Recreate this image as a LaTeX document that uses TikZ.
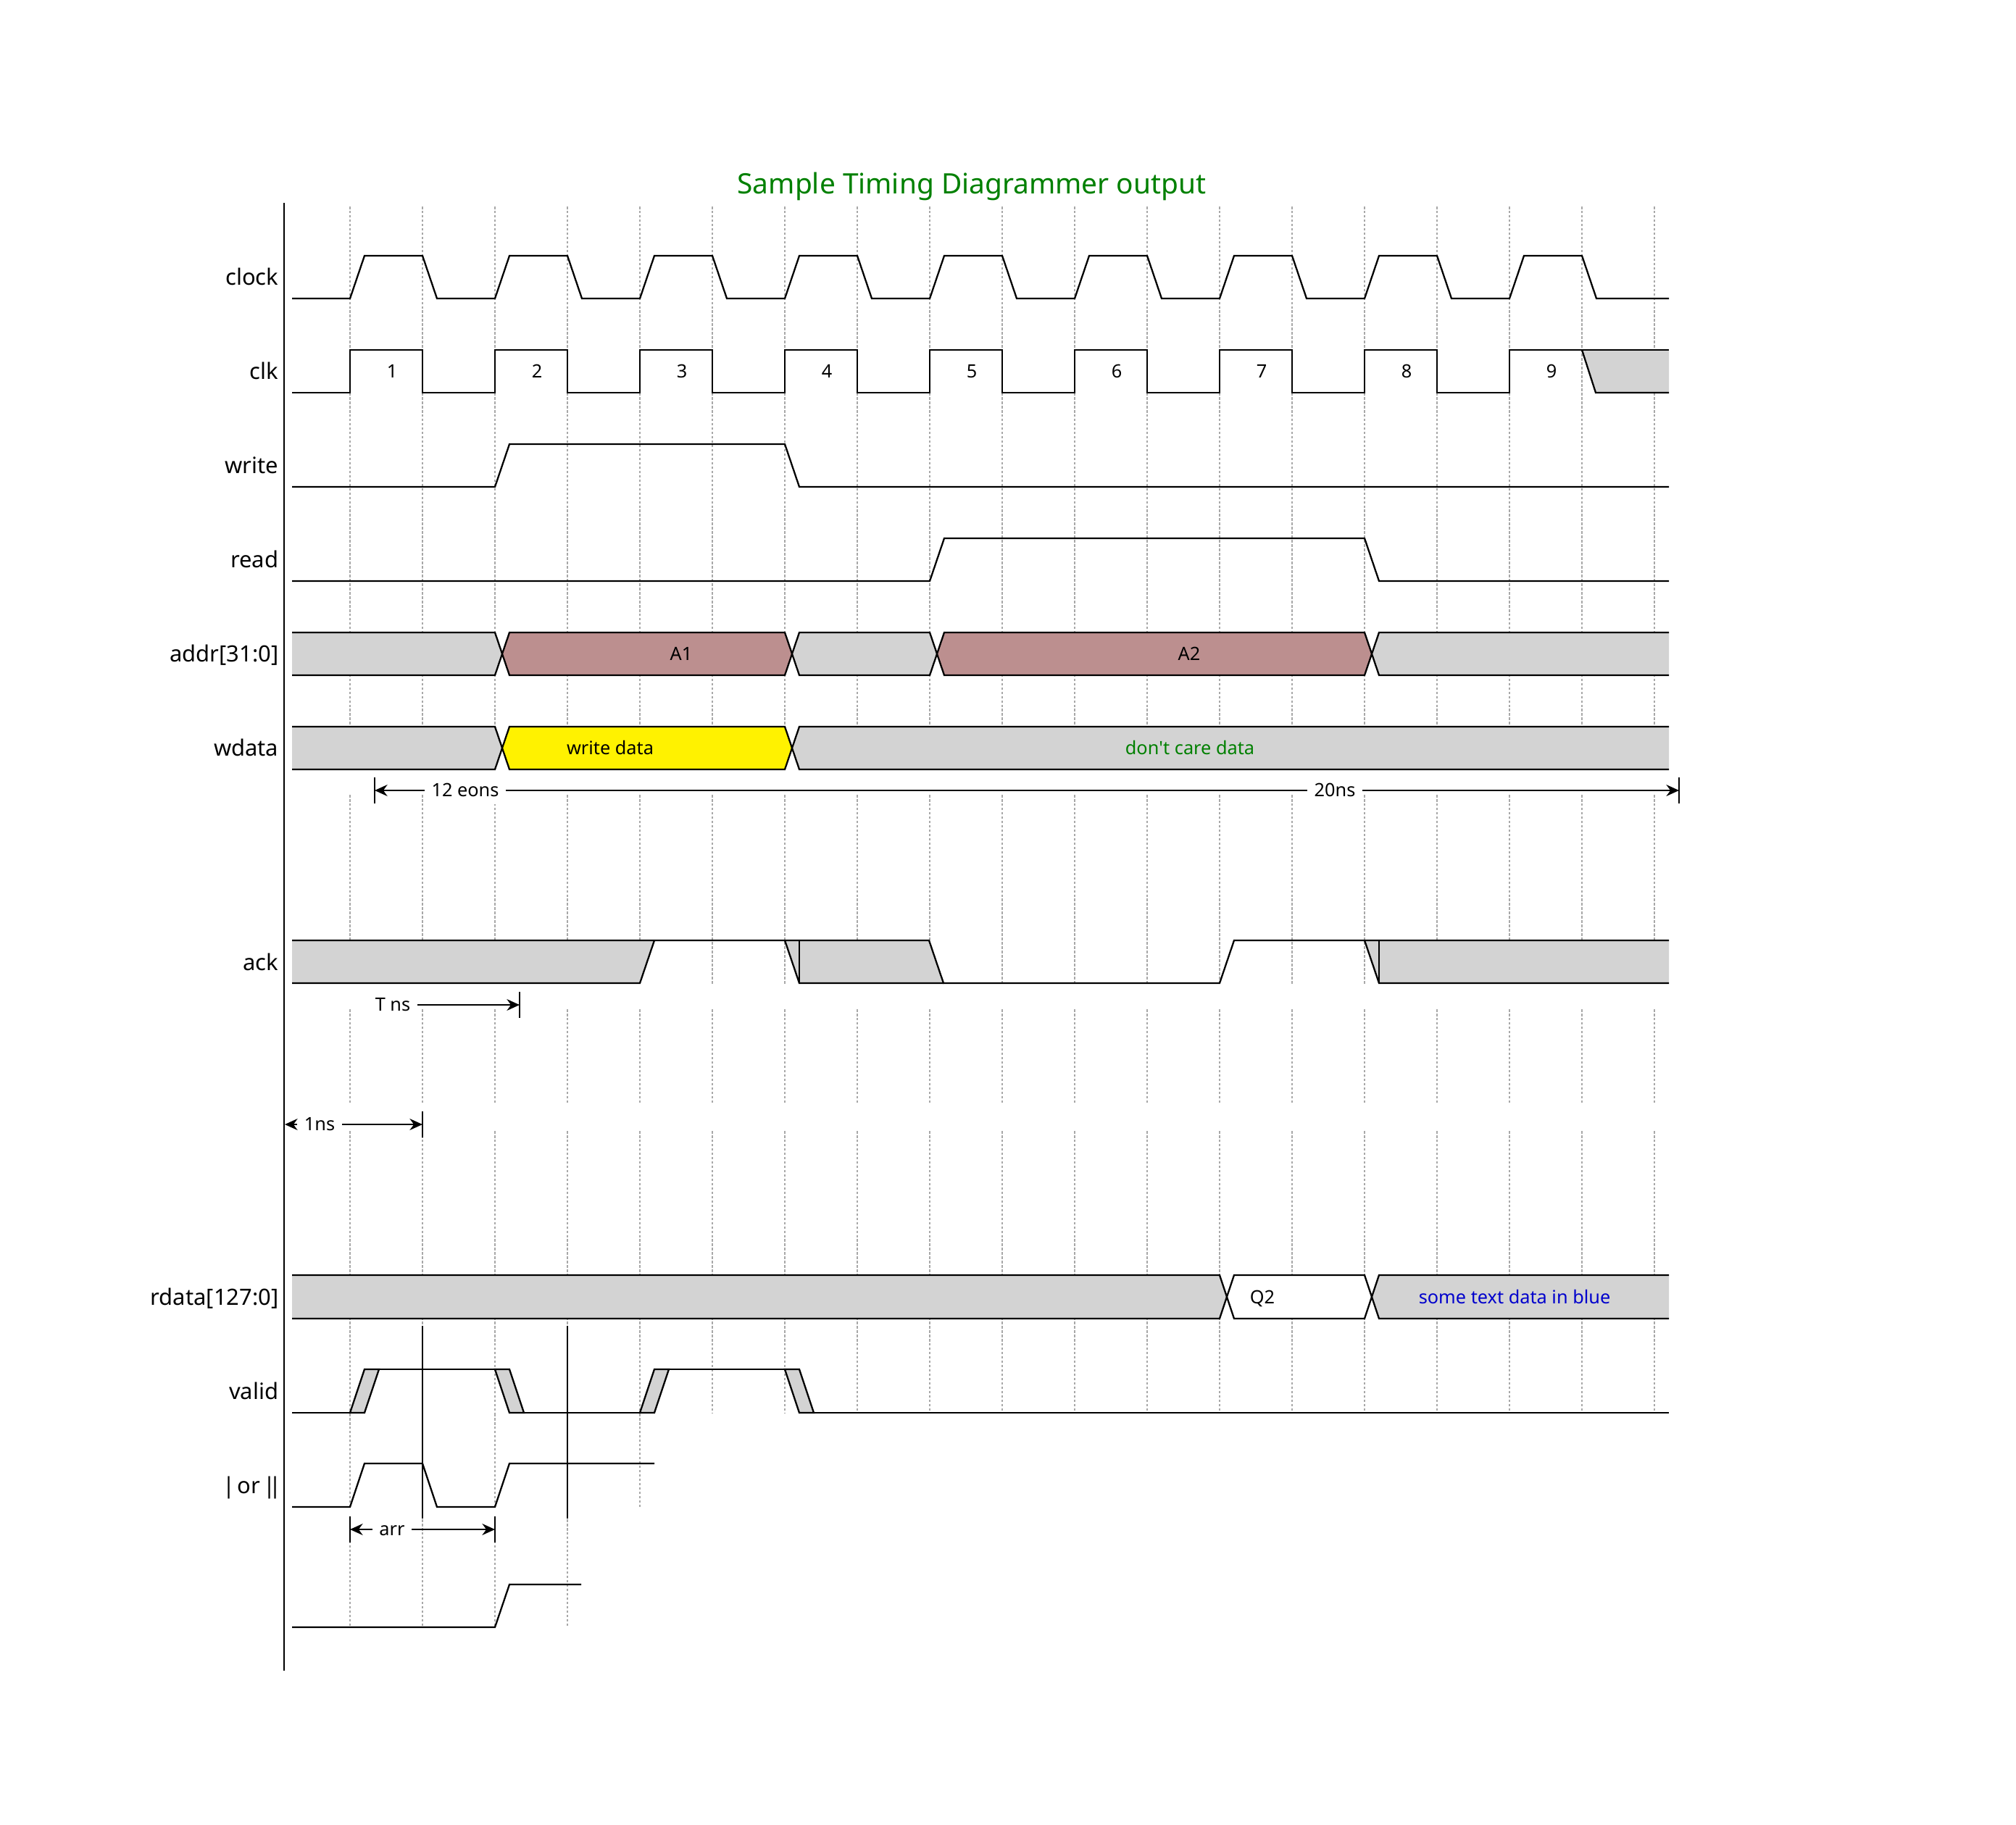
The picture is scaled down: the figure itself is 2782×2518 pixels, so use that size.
\documentclass[tikz,border=0pt]{standalone}
\usepackage{fontspec}
\setmainfont{Noto Sans}
\usetikzlibrary{arrows.meta}
\definecolor{busgray}{HTML}{D3D3D3}
\definecolor{rosy}{HTML}{BC8F8F}
\definecolor{gridc}{HTML}{A8A8A8}
\definecolor{titlegreen}{HTML}{008000}
\definecolor{txtblue}{HTML}{0000CC}
\newcommand{\onebar}{\makebox[2.4pt]{|}}
\begin{document}
\begin{tikzpicture}[x=0.01cm,y=-0.01cm,
  sig/.style={line width=0.65pt, line join=miter},
  hair/.style={line width=0.35pt},
  marker/.style={line width=0.45pt},
  gridl/.style={gridc, line width=0.35pt, dash pattern=on 1pt off 0.7pt},
  lab/.style={font=\fontsize{8.8}{10}\selectfont, anchor=base east, inner sep=0pt},
  val/.style={font=\fontsize{7.2}{9}\selectfont, anchor=base, inner sep=0pt},
  dim/.style={line width=0.6pt},
  dimtxt/.style={font=\fontsize{7.2}{9}\selectfont, inner sep=2.6pt, text height=5.4pt, text depth=0.3pt},
  tip/.style={-{Stealth[length=5pt,width=4.5pt]}},
]
\useasboundingbox (0,0) rectangle (2782,2518);

% title
\node[font=\fontsize{11.05}{13}\selectfont, text=titlegreen] (title) at (1341,257) {Sample Timing Diagrammer output};

% grid
\foreach \x in {483,583,...,2283} {
  \draw[gridl] (\x,285) -- (\x,1061);
  \draw[gridl] (\x,1097) -- (\x,1360);
  \draw[gridl] (\x,1393) -- (\x,1523);
  \draw[gridl] (\x,1561) -- (\x,1951);
}
\foreach \x in {483,583,...,883} \draw[gridl] (\x,1951) -- (\x,2081);
\foreach \x in {483,583,...,783} \draw[gridl] (\x,2097) -- (\x,2246);

% axis
\draw[sig] (392,280) -- (392,2306);

% labels
\node[lab] (lclock) at (385,393) {clock};
\node[lab] (lclk)   at (385,523) {clk};
\node[lab] (lwrite) at (385,653) {write};
\node[lab] (lread)  at (385,783) {read};
\node[lab] (laddr)  at (385,913) {addr[31:0]};
\node[lab] (lwdata) at (385,1043) {wdata};
\node[lab] (lack)   at (385,1339) {ack};
\node[lab] (lrdata) at (385,1801) {rdata[127:0]};
\node[lab] (lvalid) at (385,1931) {valid};
\node[lab] (lor)    at (385,2061) {\onebar{} or \onebar\onebar};

% clock
\draw[sig] (403,412) \foreach \k in {0,...,8}{ -- ({483+200*\k},412) -- ({503+200*\k},353) -- ({583+200*\k},353) -- ({603+200*\k},412)} -- (2303,412);

% clk
\fill[busgray] (2183,483) -- (2303,483) -- (2303,542) -- (2202,542) -- cycle;
\draw[sig] (403,542) \foreach \k in {0,...,7}{ -- ({483+200*\k},542) -- ({483+200*\k},483) -- ({583+200*\k},483) -- ({583+200*\k},542)} -- (2083,542) -- (2083,483) -- (2303,483);
\draw[sig] (2183,483) -- (2202,542) -- (2303,542);
\foreach \k in {1,...,9} \node[val] (n\k) at ({341+200*\k},521) {\k};

% write
\draw[sig] (403,672) -- (683,672) -- (703,613) -- (1083,613) -- (1103,672) -- (2303,672);
% read
\draw[sig] (403,802) -- (1283,802) -- (1303,743) -- (1883,743) -- (1903,802) -- (2303,802);

% addr
\fill[busgray] (403,873) -- (683,873) -- (693,902.5) -- (683,932) -- (403,932) -- cycle;
\draw[sig] (403,873) -- (683,873) -- (693,902.5) -- (683,932) -- (403,932);
\draw[sig, fill=rosy] (693,902.5) -- (703,873) -- (1083,873) -- (1093,902.5) -- (1083,932) -- (703,932) -- cycle;
\draw[sig, fill=busgray] (1093,902.5) -- (1103,873) -- (1283,873) -- (1293,902.5) -- (1283,932) -- (1103,932) -- cycle;
\draw[sig, fill=rosy] (1293,902.5) -- (1303,873) -- (1883,873) -- (1893,902.5) -- (1883,932) -- (1303,932) -- cycle;
\fill[busgray] (2303,873) -- (1903,873) -- (1893,902.5) -- (1903,932) -- (2303,932) -- cycle;
\draw[sig] (2303,873) -- (1903,873) -- (1893,902.5) -- (1903,932) -- (2303,932);
\node[val] (a1) at (940,911) {A1};
\node[val] (a2) at (1641,911) {A2};

% wdata
\fill[busgray] (403,1003) -- (683,1003) -- (693,1032.5) -- (683,1062) -- (403,1062) -- cycle;
\draw[sig] (403,1003) -- (683,1003) -- (693,1032.5) -- (683,1062) -- (403,1062);
\draw[sig, fill=yellow] (693,1032.5) -- (703,1003) -- (1083,1003) -- (1093,1032.5) -- (1083,1062) -- (703,1062) -- cycle;
\fill[busgray] (2303,1003) -- (1103,1003) -- (1093,1032.5) -- (1103,1062) -- (2303,1062) -- cycle;
\draw[sig] (2303,1003) -- (1103,1003) -- (1093,1032.5) -- (1103,1062) -- (2303,1062);
\node[val] (wd) at (842,1041) {write data};
\node[val, text=titlegreen] (dc) at (1642,1041) {don\textquotesingle t care data};

% 12 eons / 20ns
\coordinate (e12L) at (517,1091);
\coordinate (e20R) at (2317,1091);
\node[dimtxt, fill=white] (t12) at (642,1091) {12 eons};
\node[dimtxt, fill=white] (t20) at (1842,1091) {20ns};
\draw[dim, tip] (t12.west) -- (e12L);
\draw[dim] (t12.east) -- (t20.west);
\draw[dim, tip] (t20.east) -- (e20R);
\draw[dim] (517,1073) -- (517,1109);
\draw[dim] (2317,1073) -- (2317,1109);

% ack
\fill[busgray] (403,1298) -- (903,1298) -- (883,1357) -- (403,1357) -- cycle;
\fill[busgray] (1083,1298) -- (1282,1298) -- (1302,1357) -- (1103,1357) -- cycle;
\fill[busgray] (1883,1298) -- (2303,1298) -- (2303,1357) -- (1903,1357) -- cycle;
\draw[sig] (403,1298) -- (1282,1298) -- (1302,1357) -- (1683,1357) -- (1703,1298) -- (2303,1298);
\draw[sig] (403,1357) -- (883,1357) -- (903,1298);
\draw[sig] (1083,1298) -- (1103,1357) -- (1302,1357);
\draw[sig] (1883,1298) -- (1903,1357) -- (2303,1357);
\draw[hair] (1103,1298) -- (1103,1357);
\draw[hair] (1903,1298) -- (1903,1357);

% T ns
\node[dimtxt] (tns) at (542,1387) {T ns};
\coordinate (tnsR) at (717,1387);
\draw[dim, tip] (tns.east) -- (tnsR);
\draw[dim] (717,1369) -- (717,1405);

% 1ns
\node[dimtxt] (t1ns) at (441,1552) {1ns};
\coordinate (t1L) at (393,1552);
\coordinate (t1R) at (583,1552);
\draw[dim, tip] (t1ns.west) -- (t1L);
\draw[dim, tip] (t1ns.east) -- (t1R);
\draw[dim] (583,1534) -- (583,1570);

% rdata
\fill[busgray] (403,1760) -- (1683,1760) -- (1693,1790) -- (1683,1820) -- (403,1820) -- cycle;
\draw[sig] (403,1760) -- (1683,1760) -- (1693,1790) -- (1683,1820) -- (403,1820);
\draw[sig, fill=white] (1693,1790) -- (1703,1760) -- (1883,1760) -- (1893,1790) -- (1883,1820) -- (1703,1820) -- cycle;
\fill[busgray] (2303,1760) -- (1903,1760) -- (1893,1790) -- (1903,1820) -- (2303,1820) -- cycle;
\draw[sig] (2303,1760) -- (1903,1760) -- (1893,1790) -- (1903,1820) -- (2303,1820);
\node[val] (q2) at (1742,1799) {Q2};
\node[val, text=txtblue] (bl) at (2090,1799) {some text data in blue};

% valid
\draw[sig] (403,1950) -- (483,1950);
\draw[sig, fill=busgray] (483,1950) -- (503,1890) -- (523,1890) -- (503,1950) -- cycle;
\draw[sig] (503,1890) -- (683,1890);
\draw[sig, fill=busgray] (683,1890) -- (703,1890) -- (723,1950) -- (703,1950) -- cycle;
\draw[sig] (703,1950) -- (883,1950);
\draw[sig, fill=busgray] (883,1950) -- (903,1890) -- (923,1890) -- (903,1950) -- cycle;
\draw[sig] (903,1890) -- (1083,1890);
\draw[sig, fill=busgray] (1083,1890) -- (1103,1890) -- (1123,1950) -- (1103,1950) -- cycle;
\draw[sig] (1103,1950) -- (2303,1950);

% markers
\draw[marker] (583,1830) -- (583,2096);
\draw[marker] (783,1830) -- (783,2096);

% | or ||
\draw[sig] (403,2080) -- (483,2080) -- (503,2020) -- (583,2020) -- (603,2080) -- (683,2080) -- (703,2020) -- (903,2020);

% arr
\node[dimtxt] (tarr) at (541,2111) {arr};
\coordinate (arrL) at (483,2111);
\coordinate (arrR) at (683,2111);
\draw[dim, tip] (tarr.west) -- (arrL);
\draw[dim, tip] (tarr.east) -- (arrR);
\draw[dim] (483,2093) -- (483,2129);
\draw[dim] (683,2093) -- (683,2129);

% last row
\draw[sig] (403,2246) -- (683,2246) -- (703,2187) -- (802,2187);
\end{tikzpicture}
\end{document}
